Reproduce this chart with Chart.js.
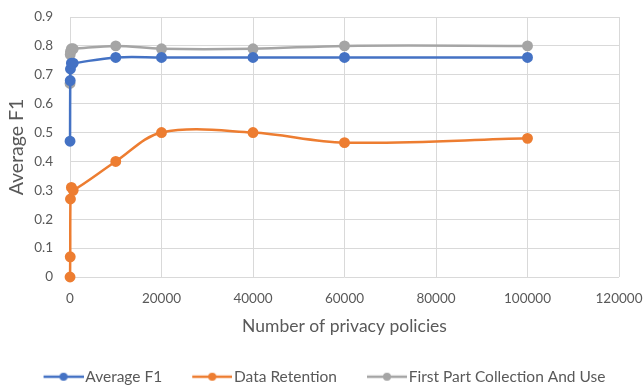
<!DOCTYPE html>
<html>
<head>
<meta charset="utf-8">
<script src="https://cdn.jsdelivr.net/npm/chart.js@4.4.1/dist/chart.umd.min.js"></script>
<style>
  html, body { margin: 0; padding: 0; background: #ffffff; }
  #wrap { width: 643px; height: 388px; position: relative; }
</style>
</head>
<body>
<div id="wrap"><canvas id="c" width="643" height="388"></canvas></div>
<script>
// Number of privacy policies used for training
const policyCounts = [10, 50, 100, 300, 700, 10000, 20000, 40000, 60000, 100000];
// F1 scores per series
const averageF1     = [0.47, 0.68, 0.72, 0.74, 0.74, 0.76, 0.76, 0.76, 0.76, 0.76];
const dataRetention = [0.00, 0.07, 0.27, 0.31, 0.30, 0.40, 0.50, 0.50, 0.465, 0.48];
const firstParty    = [0.67, 0.77, 0.78, 0.79, 0.79, 0.80, 0.79, 0.79, 0.80, 0.80];
const seriesNames = ['Average F1', 'Data Retention', 'First Part Collection And Use'];
const seriesColors = ['#4472C4', '#ED7D31', '#A5A5A5'];
// Axis ticks
const xTicks = [0, 20000, 40000, 60000, 80000, 100000, 120000];
const yTicks = [0, 0.1, 0.2, 0.3, 0.4, 0.5, 0.6, 0.7, 0.8, 0.9];

const FONT = 'Lato, "Open Sans", sans-serif';
const TEXT = '#595959';

function toPoints(ys) {
  return policyCounts.map((x, i) => ({ x: x, y: ys[i] }));
}

// Legend marker: a 40px line with a dot in the middle. The image is a bit wider
// than the legend box so the line runs right up to the label text.
const BOX_W = 40, MARK_W = 52, LINE_LEN = 40;
function legendMarker(color) {
  const cv = document.createElement('canvas');
  cv.width = MARK_W; cv.height = 10;
  const g = cv.getContext('2d');
  const x0 = MARK_W - LINE_LEN;
  g.strokeStyle = color; g.lineWidth = 2.5;
  g.beginPath(); g.moveTo(x0, 5); g.lineTo(MARK_W, 5); g.stroke();
  g.fillStyle = color;
  g.beginPath(); g.arc(x0 + LINE_LEN / 2, 5, 4, 0, Math.PI * 2); g.fill();
  return cv;
}

// Legend: single row, fixed-height band across the full canvas width
const legendBand = {
  id: 'legendBand',
  afterInit(chart) {
    const lg = chart.legend;
    if (!lg) return;
    const fit = lg.fit;
    lg.fit = function () {
      const mw = this.maxWidth;
      this.maxWidth = 2000;
      fit.call(this);
      this.maxWidth = mw;
      this.width = mw;
      this.height = 43;
    };
  },
  afterLayout(chart) {
    const lg = chart.legend;
    if (!lg) return;
    lg.left = 0;
    lg.right = chart.width;
    lg.width = chart.width;
  }
};

const allSeries = [averageF1, dataRetention, firstParty];
const datasets = allSeries.map((ys, i) => ({
  label: seriesNames[i],
  data: toPoints(ys),
  borderColor: seriesColors[i],
  backgroundColor: seriesColors[i],
  borderWidth: 2.5,
  pointRadius: 4.2,
  pointHoverRadius: 4.2,
  tension: 0.35,
  showLine: true,
  fill: false,
  clip: false
}));

new Chart(document.getElementById('c'), {
  type: 'scatter',
  data: { datasets: datasets },
  plugins: [legendBand],
  options: {
    responsive: false,
    animation: false,
    devicePixelRatio: 1,
    layout: { padding: { left: 0, right: 24, top: 17, bottom: 0 } },
    plugins: {
      tooltip: { enabled: false },
      legend: {
        position: 'bottom',
        labels: {
          usePointStyle: true,
          pointStyleWidth: BOX_W,
          boxHeight: 10,
          padding: 24,
          color: TEXT,
          font: { family: FONT, size: 15.5 },
          generateLabels: (chart) => chart.data.datasets.map((ds, i) => ({
            text: ds.label,
            fillStyle: ds.borderColor,
            strokeStyle: ds.borderColor,
            fontColor: TEXT,
            pointStyle: legendMarker(ds.borderColor),
            datasetIndex: i,
            hidden: false,
            lineWidth: 0
          }))
        }
      }
    },
    scales: {
      x: {
        type: 'linear',
        min: xTicks[0],
        max: xTicks[xTicks.length - 1],
        afterBuildTicks: (s) => { s.ticks = xTicks.map(v => ({ value: v })); },
        afterFit: (s) => { s.height = 68; s.paddingLeft = 0; s.paddingRight = 0; },
        grid: { color: '#d9d9d9', lineWidth: 1, drawTicks: false },
        border: { display: false },
        ticks: {
          color: TEXT,
          padding: 14,
          maxRotation: 0,
          font: { family: FONT, size: 13.5 },
          callback: (v) => String(v)
        },
        title: {
          display: true,
          text: 'Number of privacy policies',
          color: TEXT,
          padding: { top: 4, bottom: 8.5 },
          font: { family: FONT, size: 17.5 }
        }
      },
      y: {
        min: 0,
        max: 0.9,
        afterBuildTicks: (s) => { s.ticks = yTicks.map(v => ({ value: v })); },
        afterFit: (s) => { s.width = 70; s.paddingTop = 0; s.paddingBottom = 0; },
        grid: { color: '#d9d9d9', lineWidth: 1, drawTicks: false },
        border: { display: false },
        ticks: {
          color: TEXT,
          padding: 17,
          font: { family: FONT, size: 13.5 },
          callback: (v) => String(+v.toFixed(1))
        },
        title: {
          display: true,
          text: 'Average F1',
          color: TEXT,
          padding: { top: 5, bottom: 4 },
          font: { family: FONT, size: 19.5 }
        }
      }
    }
  }
});
</script>
</body>
</html>
